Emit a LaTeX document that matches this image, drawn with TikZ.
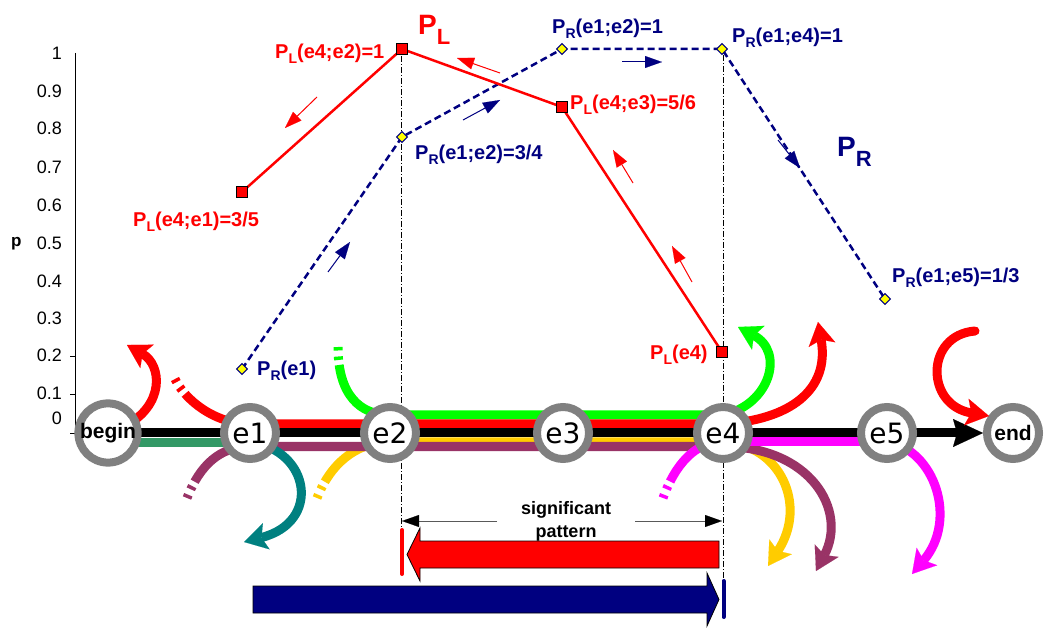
\documentclass[tikz,border=0pt]{standalone}
\usepackage{fontspec}
\setmainfont{Liberation Sans}
\newfontfamily\efont{DejaVu Sans}
\usetikzlibrary{arrows.meta,calc}
\definecolor{cred}{HTML}{FF0000}
\definecolor{cnavy}{HTML}{000080}
\definecolor{cgreen}{HTML}{00FF00}
\definecolor{cpurple}{HTML}{993366}
\definecolor{cdkgreen}{HTML}{339966}
\definecolor{cteal}{HTML}{008080}
\definecolor{cyellow}{HTML}{FFCC00}
\definecolor{cmag}{HTML}{FF00FF}
\definecolor{cgray}{HTML}{808080}
\definecolor{cyel}{HTML}{FFFF00}
\newcommand\lsub[1]{\raisebox{-5pt}{\fontsize{14}{14}\selectfont #1}}
\newcommand\bsub[1]{\raisebox{-10pt}{\fontsize{22}{22}\selectfont #1}}
\begin{document}
\begin{tikzpicture}[x=1pt,y=-1pt,
  evnode/.style={circle,draw=cgray,line width=8pt,fill=white,minimum size=52pt,inner sep=0pt,font=\efont\fontsize{28}{28}\selectfont},
  endnode/.style={evnode,font=\bfseries\fontsize{21}{21}\selectfont},
  route/.style={line width=9pt},
  startdash/.style={dash pattern=on 3.5pt off 6pt on 3.5pt off 5pt on 3000pt off 1pt},
  bighead/.style={-{Stealth[length=23pt,width=27pt,inset=5pt,line width=0.1pt]}},
  smarr/.style={line width=1pt,-{Triangle[length=17pt,width=12pt,line width=0.1pt]}},
  sigarr/.style={draw=black!65,line width=1pt,-{Triangle[length=17pt,width=12pt,color=black,fill=black,line width=0.1pt]}},
  plline/.style={cred,line width=2.5pt},
  prline/.style={cnavy,line width=2.5pt,dash pattern=on 7pt off 4pt},
  vguide/.style={black,line width=0.7pt,dash pattern=on 6pt off 2pt on 1pt off 2pt},
  sq/.style={rectangle,draw=black,fill=cred,minimum size=11pt,inner sep=0pt,line width=1pt},
  dia/.style={rectangle,rotate=45,draw=cnavy,fill=cyel,minimum size=7.5pt,inner sep=0pt,line width=1pt},
  lblred/.style={inner sep=0pt,anchor=base west,text=cred,font=\bfseries\fontsize{20}{24}\selectfont},
  lblblue/.style={inner sep=0pt,anchor=base west,text=cnavy,font=\bfseries\fontsize{20}{24}\selectfont},
  axlbl/.style={inner sep=0pt,anchor=east,font=\fontsize{18}{18}\selectfont}
]
\useasboundingbox (0,0) rectangle (1045,628);

% guides
\draw[vguide] (401,56) -- (401,538);
\draw[vguide] (723,55) -- (723,580);

% axis
\draw[line width=0.8pt] (75,53) -- (75,433);
\foreach \yy in {356,394,433} \draw[line width=0.8pt] (70,\yy) -- (75,\yy);
\foreach \v/\yy [count=\i] in {1/53.8,0.9/91.3,0.8/128.3,0.7/167,0.6/205,0.5/243.7,0.4/281,0.3/318,0.2/355,0.1/393,0/418.7}
  \node[axlbl] (ax\i) at (62,\yy) {\v};
\node[inner sep=0pt,anchor=base west,font=\bfseries\fontsize{17}{17}\selectfont] (plab) at (11,247) {p};

% event coordinates
\coordinate (cB) at (108,433);
\coordinate (c1) at (250,433);
\coordinate (c2) at (390,433);
\coordinate (c3) at (563,433);
\coordinate (c4) at (723,433);
\coordinate (c5) at (887,433);
\coordinate (cE) at (1013,433);

% routes
\draw[route,cdkgreen] (108,442.5) -- (250,442.5);
\draw[route,cyellow,startdash,bighead] (317,498) .. controls (330,465) and (355,442) .. (390,442) -- (723,442) .. controls (780,444) and (808,505) .. (768,566);
\draw[route,cpurple,startdash,bighead] (187,498) .. controls (200,465) and (220,446.5) .. (250,446.5) -- (723,446.5) .. controls (810,446.5) and (848,510) .. (816,571);
\draw[route,cmag,startdash,bighead] (663,498) .. controls (675,465) and (695,441.5) .. (723,441.5) -- (887,441.5) .. controls (935,450) and (958,520) .. (912,574);
\draw[route,cteal,bighead] (250,442) .. controls (310,450) and (322,522) .. (244,542);
\draw[route,cgreen,startdash,bighead] (338,347) .. controls (338,395) and (360,415) .. (390,415) -- (723,415) .. controls (770,405) and (785,352) .. (738,327);
\draw[route,cred,startdash,bighead] (175,379) .. controls (185,400) and (215,424) .. (250,424) -- (723,424) .. controls (790,420) and (830,390) .. (818,322);
\draw[route,cred,bighead] (125,426) .. controls (165,405) and (162,365) .. (127,345);
\draw[route,black,-{Stealth[length=30pt,width=28pt,inset=4pt,line width=0.1pt]}] (cB) -- (983,433);

% event nodes
\node[endnode] (begin) at (cB) {begin};
\node[evnode] (e1) at (c1) {e1};
\node[evnode] (e2) at (c2) {e2};
\node[evnode] (e3) at (c3) {e3};
\node[evnode] (e4) at (c4) {e4};
\node[evnode] (e5) at (c5) {e5};
\node[endnode] (end) at (cE) {end};

% red arrow into end
\draw[route,cred,line cap=round,bighead] (975,331) .. controls (925,335) and (925,405) .. (989,416);

% data points
\coordinate (L1) at (242,192);
\coordinate (L2) at (402,49);
\coordinate (L3) at (562,107);
\coordinate (L4) at (722,352);
\coordinate (R1) at (242,369);
\coordinate (R2) at (402,137);
\coordinate (R3) at (562,49);
\coordinate (R4) at (722,49);
\coordinate (R5) at (885,299);
\draw[prline] (R1) -- (R2) -- (R3) -- (R4) -- (R5);
\draw[plline] (L1) -- (L2) -- (L3) -- (L4);
\foreach \p in {L1,L2,L3,L4} \node[sq] (m\p) at (\p) {};
\foreach \p in {R1,R2,R3,R4,R5} \node[dia] (m\p) at (\p) {};

% small direction arrows
\coordinate (a1s) at (317,97);  \coordinate (a1e) at (285,128);
\coordinate (a2s) at (500,73);  \coordinate (a2e) at (457,58);
\coordinate (a3s) at (633,183); \coordinate (a3e) at (613,150);
\coordinate (a4s) at (692,282); \coordinate (a4e) at (672,246);
\coordinate (b1s) at (328,272); \coordinate (b1e) at (350,242);
\coordinate (b2s) at (463,120); \coordinate (b2e) at (500,100);
\coordinate (b3s) at (622,62);  \coordinate (b3e) at (662,62);
\coordinate (b4s) at (778,140); \coordinate (b4e) at (800,168);
\foreach \a in {a1,a2,a3,a4} \draw[smarr,cred] (\a s) -- (\a e);
\foreach \a in {b1,b2,b3,b4} \draw[smarr,cnavy] (\a s) -- (\a e);

% labels
\node[inner sep=0pt,anchor=base west,text=cred,font=\bfseries\fontsize{28}{30}\selectfont] (bigPL) at (418,35) {P\bsub{L}};
\node[inner sep=0pt,anchor=base west,text=cnavy,font=\bfseries\fontsize{28}{30}\selectfont] (bigPR) at (837,157) {P\bsub{R}};
\node[lblred] (t1) at (275,59) {P\lsub{L}(e4;e2)=1};
\node[lblred] (t2) at (570,110) {P\lsub{L}(e4;e3)=5/6};
\node[lblred] (t3) at (133,227) {P\lsub{L}(e4;e1)=3/5};
\node[lblred] (t4) at (650,360) {P\lsub{L}(e4)};
\node[lblblue] (t5) at (552,34) {P\lsub{R}(e1;e2)=1};
\node[lblblue] (t6) at (732,43) {P\lsub{R}(e1;e4)=1};
\node[lblblue] (t7) at (415,160) {P\lsub{R}(e1;e2)=3/4};
\node[lblblue] (t8) at (257,376) {P\lsub{R}(e1)};
\node[lblblue] (t9) at (892,283) {P\lsub{R}(e1;e5)=1/3};

% significant pattern
\node[inner sep=0pt,align=center,font=\bfseries\fontsize{18}{23}\selectfont] (sig) at (566,521) {significant\\pattern};
\coordinate (sgl) at (402,521);
\coordinate (sgr) at (722,521);
\draw[sigarr] (497,521) -- (sgl);
\draw[sigarr] (635,521) -- (sgr);

% block arrows and bars
\filldraw[fill=cred,draw=black,line width=0.8pt] (719,541) -- (420,541) -- (420,528) -- (407,554.5) -- (420,581) -- (420,568) -- (719,568) -- cycle;
\draw[cred,line width=4pt,line cap=round] (402,530) -- (402,574);
\filldraw[fill=cnavy,draw=black,line width=0.8pt] (253,586) -- (707,586) -- (707,573) -- (719,599.5) -- (707,626) -- (707,613) -- (253,613) -- cycle;
\draw[cnavy,line width=4pt,line cap=round] (723.5,581) -- (723.5,617);
\end{tikzpicture}
\end{document}
